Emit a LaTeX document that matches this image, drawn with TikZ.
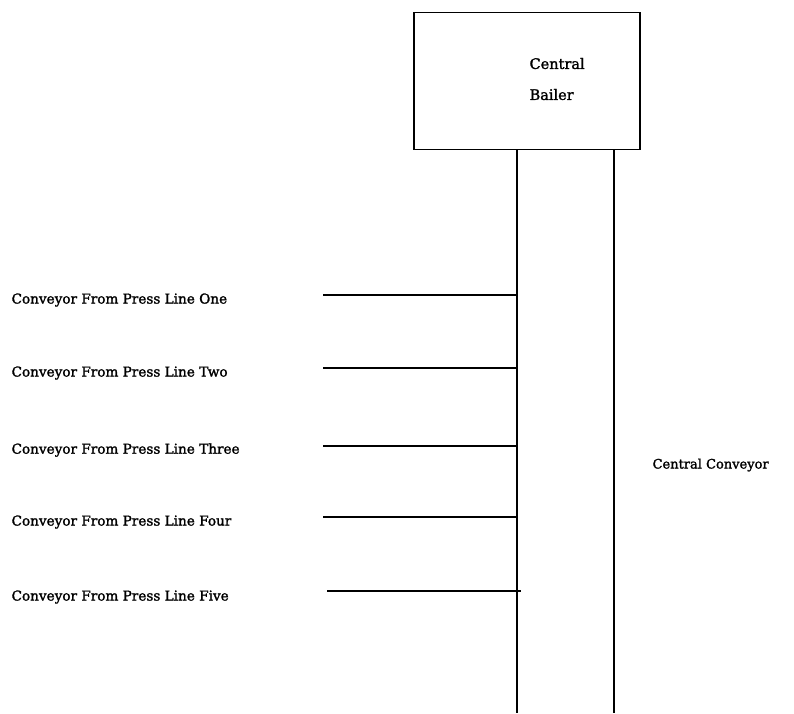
\documentclass[tikz,border=0pt]{standalone}
\usepackage{fontspec}
\setmainfont[FakeBold=1.6]{DejaVu Serif}
\begin{document}
\begin{tikzpicture}[x=1pt,y=1pt,
  line width=1.2pt,
  txt/.style={font=\fontsize{13.6}{16}\selectfont, inner sep=0pt, anchor=west},
  conv/.style={draw=black, line width=1.2pt}]
\useasboundingbox (0,0) rectangle (794,-713);
\fill[white] (0,0) rectangle (794,-713);

% central bailer box
\node[draw, line width=1.2pt, minimum width=226pt, minimum height=137pt, inner sep=0pt] (bailer) at (527,-81) {};
\node[txt, font=\fontsize{14.5}{31}\selectfont, align=left] (bailerlabel) at (529,-79) {Central\\Bailer};

% central conveyor rails
\coordinate (railLtop) at (517,-149.5);
\coordinate (railRtop) at (614,-149.5);
\coordinate (railLbot) at (517,-713);
\coordinate (railRbot) at (614,-713);
\draw[conv] (railLtop) -- (railLbot);
\draw[conv] (railRtop) -- (railRbot);
\node[txt, font=\fontsize{13}{16}\selectfont] (centralconv) at (652,-465) {Central Conveyor};

% feeder conveyors
\coordinate (f1a) at (323,-295); \coordinate (f1b) at (517,-295);
\coordinate (f2a) at (323,-368); \coordinate (f2b) at (517,-368);
\coordinate (f3a) at (323,-446); \coordinate (f3b) at (517,-446);
\coordinate (f4a) at (323,-517); \coordinate (f4b) at (517,-517);
\coordinate (f5a) at (327,-591); \coordinate (f5b) at (521,-591);
\draw[conv] (f1a) -- (f1b);
\draw[conv] (f2a) -- (f2b);
\draw[conv] (f3a) -- (f3b);
\draw[conv] (f4a) -- (f4b);
\draw[conv] (f5a) -- (f5b);

\node[txt] (l1) at (11,-300) {Conveyor From Press Line One};
\node[txt] (l2) at (11,-373) {Conveyor From Press Line Two};
\node[txt] (l3) at (11,-450) {Conveyor From Press Line Three};
\node[txt] (l4) at (11,-522) {Conveyor From Press Line Four};
\node[txt] (l5) at (11,-597) {Conveyor From Press Line Five};
\end{tikzpicture}
\end{document}
